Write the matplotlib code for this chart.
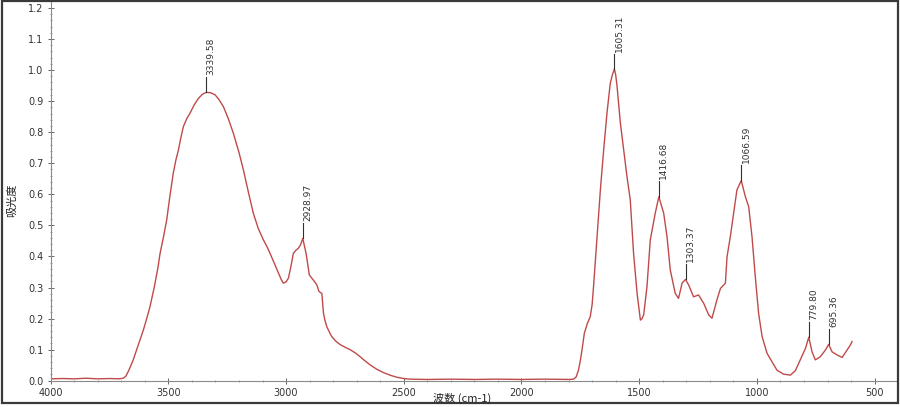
import matplotlib
matplotlib.use("Agg")
import matplotlib.pyplot as plt
from matplotlib.ticker import MultipleLocator, FormatStrFormatter
from matplotlib.patches import Rectangle

plt.rcParams['font.family'] = ['DejaVu Sans', 'Noto Sans CJK SC']

wavenumber = [4000, 3950, 3900, 3850, 3800, 3750, 3710, 3691, 3680, 3670, 3660, 3649, 3630,
              3606, 3590, 3578, 3560, 3545, 3535, 3520, 3507, 3495, 3479, 3468, 3457, 3446,
              3436, 3422, 3408, 3390, 3372, 3355, 3339.58, 3320, 3301, 3285, 3266, 3245, 3224,
              3200, 3181, 3160, 3139, 3118, 3096, 3080, 3068, 3050, 3032, 3020, 3011, 3000,
              2990, 2980, 2969, 2958, 2948, 2938, 2928.97, 2915, 2901, 2884, 2869, 2860, 2848,
              2841, 2835, 2827, 2815, 2806, 2790, 2770, 2750, 2728, 2705, 2685, 2665, 2643,
              2615, 2586, 2555, 2529, 2500, 2473, 2400, 2300, 2200, 2100, 2000, 1900, 1800,
              1779, 1768, 1758, 1750, 1743, 1733, 1720, 1708, 1700, 1694, 1680, 1665, 1651,
              1637, 1623, 1614, 1605.31, 1600, 1594, 1580, 1566, 1552, 1538, 1524, 1509, 1495,
              1488, 1481, 1467, 1453, 1432, 1416.68, 1396, 1382, 1368, 1347, 1333, 1318,
              1303.37, 1290, 1269, 1248, 1226, 1205, 1191, 1170, 1155, 1134, 1127, 1113, 1099,
              1085, 1066.59, 1049, 1035, 1021, 1007, 993, 978, 957, 936, 915, 887, 858, 837,
              816, 794, 779.80, 766, 752, 731, 709, 695.36, 681, 660, 638, 617, 603, 596]
absorbance = [0.006, 0.007, 0.006, 0.008, 0.006, 0.007, 0.006, 0.008, 0.015, 0.030, 0.047, 0.067, 0.110,
              0.163, 0.205, 0.238, 0.300, 0.360, 0.410, 0.465, 0.517, 0.585, 0.668, 0.710, 0.743, 0.785,
              0.818, 0.843, 0.861, 0.888, 0.909, 0.922, 0.928, 0.927, 0.920, 0.905, 0.882, 0.843, 0.797,
              0.735, 0.678, 0.607, 0.539, 0.490, 0.453, 0.430, 0.410, 0.378, 0.346, 0.325, 0.314, 0.318,
              0.330, 0.365, 0.410, 0.420, 0.426, 0.438, 0.458, 0.410, 0.340, 0.324, 0.308, 0.287, 0.281,
              0.217, 0.195, 0.174, 0.155, 0.142, 0.128, 0.116, 0.108, 0.100, 0.089, 0.077, 0.064, 0.051,
              0.037, 0.026, 0.017, 0.011, 0.007, 0.005, 0.004, 0.005, 0.004, 0.005, 0.004, 0.005, 0.004,
              0.005, 0.012, 0.034, 0.065, 0.099, 0.153, 0.185, 0.206, 0.245, 0.303, 0.453, 0.614, 0.743,
              0.861, 0.957, 0.985, 1.003, 0.985, 0.947, 0.829, 0.743, 0.657, 0.582, 0.410, 0.281, 0.195,
              0.200, 0.212, 0.303, 0.453, 0.539, 0.592, 0.539, 0.464, 0.356, 0.281, 0.265, 0.314,
              0.326, 0.308, 0.270, 0.276, 0.249, 0.212, 0.201, 0.260, 0.297, 0.314, 0.399, 0.464, 0.539,
              0.614, 0.644, 0.592, 0.560, 0.464, 0.335, 0.217, 0.142, 0.088, 0.061, 0.034, 0.021, 0.018, 0.032,
              0.067, 0.104, 0.140, 0.093, 0.067, 0.077, 0.099, 0.117, 0.093, 0.083, 0.075, 0.099, 0.115, 0.126]

peak_wn = [3339.58, 2928.97, 1605.31, 1416.68, 1303.37, 1066.59, 779.80, 695.36]
peak_labels = ["3339.58", "2928.97", "1605.31", "1416.68", "1303.37", "1066.59", "779.80", "695.36"]

x_ticks = [4000, 3500, 3000, 2500, 2000, 1500, 1000, 500]

fig = plt.figure(figsize=(9, 4.07), dpi=100)
ax = fig.add_axes([50.6 / 900, 1 - 380.7 / 407, (897.5 - 50.6) / 900, (380.7 - 2) / 407])

ax.plot(wavenumber, absorbance, color='#c04a4a', lw=1.0)

peak_abs = [absorbance[wavenumber.index(w)] for w in peak_wn]
for w, a, lab in zip(peak_wn, peak_abs, peak_labels):
    ax.plot([w, w], [a, a + 0.05], color='#303030', lw=0.8)
    ax.annotate(lab, xy=(w, a + 0.052), xytext=(3.5, 1), textcoords='offset points',
                rotation=90, ha='center', va='bottom', fontsize=6.5, color='#303030')

ax.set_xlim(4000, 403)
ax.set_ylim(0, 1.219)
ax.set_xticks(x_ticks)
ax.xaxis.set_minor_locator(MultipleLocator(100))
ax.yaxis.set_major_locator(MultipleLocator(0.1))
ax.yaxis.set_minor_locator(MultipleLocator(0.02))
ax.yaxis.set_major_formatter(FormatStrFormatter('%.1f'))

for s in ['top', 'right']:
    ax.spines[s].set_visible(False)
for s in ['left', 'bottom']:
    ax.spines[s].set_color('#8a8a8a')
    ax.spines[s].set_linewidth(0.8)

ax.tick_params(axis='both', which='major', length=4, width=0.7, color='#666666',
               labelsize=7, labelcolor='#333333', direction='inout')
ax.tick_params(axis='both', which='minor', length=2, width=0.6, color='#888888', direction='inout')
ax.tick_params(axis='x', pad=3)
ax.tick_params(axis='y', pad=3)

fig.text(12 / 900, 1 - 200 / 407, "吸光度", rotation=90, ha='center', va='center',
         fontsize=8, color='#222222', family=['Noto Sans CJK SC', 'DejaVu Sans'])
fig.text(462 / 900, 1 - 398 / 407, "波数 (cm-1)", ha='center', va='center',
         fontsize=8, color='#222222', family=['Noto Sans CJK SC', 'DejaVu Sans'])

frame = Rectangle((2 / 900, 1 - 403 / 407), 896 / 900, 402 / 407, transform=fig.transFigure,
                  fill=False, edgecolor='#3a3a3a', lw=1.6)
fig.patches.append(frame)

fig.savefig("out.png", dpi=100)
